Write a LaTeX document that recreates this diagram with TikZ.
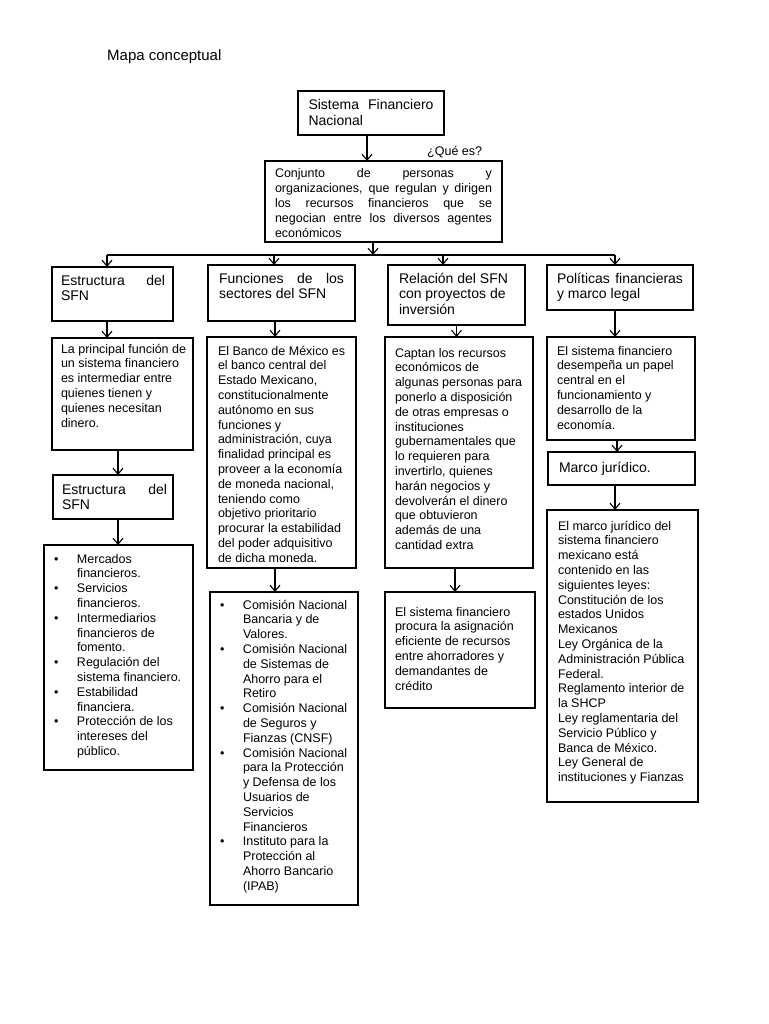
\documentclass[tikz,border=0pt]{standalone}
\usepackage{fontspec}
\setmainfont{Liberation Sans}
\usetikzlibrary{arrows.meta}
\newcommand\titf{\fontsize{14}{15.5}\selectfont}
\newcommand\bodyf{\fontsize{12.5}{14.8}\selectfont}
\newcommand\jl[2]{\makebox[#1pt][s]{#2}}
\newcommand\fl[1]{\rule{0pt}{#1pt}}
\newcommand\itm[1]{\par\hangindent=25pt\hangafter=1\noindent\makebox[25pt][l]{\hspace*{2pt}\textbullet}#1\par}
\newcommand\bx[8]{%
  \pgfmathsetmacro\bxw{#5-#3}%
  \pgfmathsetmacro\bxh{#6-#4}%
  \pgfmathsetmacro\bxt{#5-#3-#7-2}%
  \node[box,font=#1] (#2) at (#3,#4) {\makebox[\bxw pt][l]{\hspace*{#7pt}\parbox[t][\bxh pt][t]{\bxt pt}{\raggedright #8}}};}
\tikzset{
  box/.style={draw, line width=1.5pt, anchor=north west, inner sep=0pt, outer sep=0pt},
  arr/.style={line width=1.1pt, -{Straight Barb[length=6pt,width=10pt]}},
  bar/.style={line width=1.5pt}
}
\begin{document}
\begin{tikzpicture}[x=1pt,y=-1pt]
\fill[white] (0,0) rectangle (768,1024);
\useasboundingbox (0,0) rectangle (768,1024);

\node[font=\fontsize{15}{18}\selectfont, anchor=base west, inner sep=0pt] (title) at (107,61) {Mapa conceptual};
\node[font=\bodyf, anchor=base west, inner sep=0pt] (que) at (427,156) {¿Qué es?};

\bx{\titf}{sfn}{298}{91}{444}{135}{10.5}{\fl{19}\jl{125}{Sistema Financiero}\\Nacional}
\bx{\bodyf}{conj}{265}{161}{502}{242}{10}{\fl{17}\jl{217}{Conjunto de personas y}\\\jl{217}{organizaciones, que regulan y dirigen}\\\jl{217}{los recursos financieros que se}\\\jl{217}{negocian entre los diversos agentes}\\económicos}

\bx{\titf}{est1}{52}{267}{173}{321}{9}{\fl{18}\jl{104}{Estructura del}\\SFN}
\bx{\titf}{fun}{208}{265}{355}{321}{11}{\fl{18}\jl{125}{Funciones de los}\\sectores del SFN}
\bx{\titf}{rel}{388}{265}{525}{325}{11}{\fl{18}Relación del SFN\\con proyectos de\\inversión}
\bx{\titf}{pol}{547}{265}{693}{310}{10}{\fl{18}\jl{126}{Políticas financieras}\\y marco legal}

\bx{\bodyf}{pri}{52}{338}{193}{450}{9}{\fl{15}La principal función de\\un sistema financiero\\es intermediar entre\\quienes tienen y\\quienes necesitan\\dinero.}
\bx{\titf}{est2}{53}{475}{173}{519}{9}{\fl{19}\jl{105}{Estructura del}\\SFN}
\bx{\bodyf}{bul}{44}{545}{193}{770}{8}{%
\itm{\fl{18}Mercados\newline financieros.}%
\itm{Servicios\newline financieros.}%
\itm{Intermediarios\newline financieros de\newline fomento.}%
\itm{Regulación del\newline sistema financiero.}%
\itm{Estabilidad\newline financiera.}%
\itm{Protección de los\newline intereses del\newline público.}}

\bx{\bodyf}{ban}{207}{337}{356}{568}{11}{\fl{18}El Banco de México es\\el banco central del\\Estado Mexicano,\\constitucionalmente\\autónomo en sus\\funciones y\\administración, cuya\\finalidad principal es\\proveer a la economía\\de moneda nacional,\\teniendo como\\objetivo prioritario\\procurar la estabilidad\\del poder adquisitivo\\de dicha moneda.}
\bx{\bodyf}{com}{210}{592}{358}{905}{8}{%
\itm{\fl{17}Comisión Nacional\newline Bancaria y de\newline Valores.}%
\itm{Comisión Nacional\newline de Sistemas de\newline Ahorro para el\newline Retiro}%
\itm{Comisión Nacional\newline de Seguros y\newline Fianzas (CNSF)}%
\itm{Comisión Nacional\newline para la Protección\newline y Defensa de los\newline Usuarios de\newline Servicios\newline Financieros}%
\itm{Instituto para la\newline Protección al\newline Ahorro Bancario\newline (IPAB)}}

\bx{\bodyf}{cap}{385}{337}{533}{568}{10}{\fl{20}Captan los recursos\\económicos de\\algunas personas para\\ponerlo a disposición\\de otras empresas o\\instituciones\\gubernamentales que\\lo requieren para\\invertirlo, quienes\\harán negocios y\\devolverán el dinero\\que obtuvieron\\además de una\\cantidad extra}
\bx{\bodyf}{asg}{385}{592}{535}{708}{10}{\fl{24}El sistema financiero\\procura la asignación\\eficiente de recursos\\entre ahorradores y\\demandantes de\\crédito}

\bx{\bodyf}{pol2}{547}{337}{695}{440}{10}{\fl{18}El sistema financiero\\desempeña un papel\\central en el\\funcionamiento y\\desarrollo de la\\economía.}
\bx{\titf}{mj}{548}{452}{695}{485}{11}{\fl{20}Marco jurídico.}
\bx{\bodyf}{mjt}{547}{510}{698}{802}{11}{\fl{20}El marco jurídico del\\sistema financiero\\mexicano está\\contenido en las\\siguientes leyes:\\Constitución de los\\estados Unidos\\Mexicanos\\Ley Orgánica de la\\Administración Pública\\Federal.\\Reglamento interior de\\la SHCP\\Ley reglamentaria del\\Servicio Público y\\Banca de México.\\Ley General de\\instituciones y Fianzas}

% connectors
\coordinate (barL) at (107,255);
\coordinate (barR) at (615,255);
\draw[bar] (barL) -- (barR);
\draw[arr] ([xshift=-4pt]sfn.south) -- ([xshift=-4pt]sfn.south |- conj.north);
\draw[arr] ([xshift=-10.5pt]conj.south) -- ([xshift=-10.5pt]conj.south |- barL);
\draw[arr] (barL) -- (barL |- est1.north);
\draw[arr] ([xshift=-7.5pt]fun.north |- barL) -- ([xshift=-7.5pt]fun.north);
\draw[arr] ([xshift=-13.5pt]rel.north |- barL) -- ([xshift=-13.5pt]rel.north);
\draw[arr] (barR) -- (barR |- pol.north);

\draw[arr] ([xshift=-5.5pt]est1.south) -- ([xshift=-5.5pt]est1.south |- pri.north);
\draw[arr] ([xshift=-4.5pt]pri.south) -- ([xshift=-4.5pt]pri.south |- est2.north);
\draw[arr] ([xshift=5pt]est2.south) -- ([xshift=5pt]est2.south |- bul.north);

\draw[arr] ([xshift=-6.5pt]fun.south) -- ([xshift=-6.5pt]fun.south |- ban.north);
\draw[arr] ([xshift=-6.5pt]ban.south) -- ([xshift=-6.5pt]ban.south |- com.north);

\draw[arr] (rel.south) -- (rel.south |- cap.north);
\draw[arr] ([xshift=-4pt]cap.south) -- ([xshift=-4pt]cap.south |- asg.north);

\draw[arr] ([xshift=-5pt]pol.south) -- ([xshift=-5pt]pol.south |- pol2.north);
\draw[arr] ([xshift=-4pt]pol2.south) -- ([xshift=-4pt]pol2.south |- mj.north);
\draw[arr] ([xshift=-6.5pt]mj.south) -- ([xshift=-6.5pt]mj.south |- mjt.north);
\end{tikzpicture}
\end{document}
